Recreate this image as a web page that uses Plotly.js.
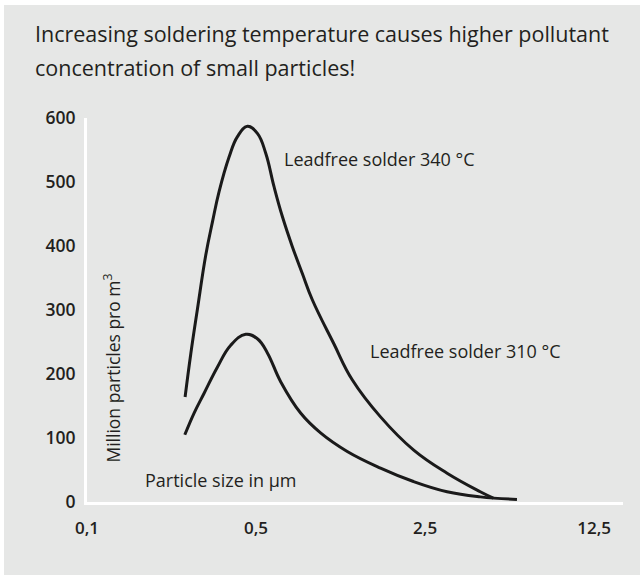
<!DOCTYPE html>
<html>
<head>
<meta charset="utf-8">
<script src="https://cdn.plot.ly/plotly-3.0.1.min.js"></script>
<style>
html,body{margin:0;padding:0;background:#ffffff;width:640px;height:579px;overflow:hidden;}
#chart{position:absolute;left:4px;top:5px;width:636px;height:570px;}
</style>
</head>
<body>
<div id="chart"></div>
<script>
// Particle size (µm) and concentration (million particles per m³)
const size340 = [0.2544, 0.2687, 0.2863, 0.3098, 0.3303, 0.3516, 0.3867, 0.4188, 0.4605, 0.5063, 0.5482, 0.5929, 0.6423, 0.7063, 0.7767, 0.854, 1.046, 1.249, 1.635, 2.243, 3.081, 4.227, 4.783];
const conc340 = [164, 232, 302, 386, 438, 485, 539, 571, 587, 576, 545, 493, 446, 399, 357, 316, 248, 191, 133, 81, 45, 16, 6];

const size310 = [0.2537, 0.2772, 0.3049, 0.3463, 0.3929, 0.4531, 0.5063, 0.5569, 0.632, 0.764, 0.924, 1.191, 1.635, 2.237, 3.081, 4.227, 5.993];
const conc310 = [105, 139, 170, 211, 245, 262, 255, 233, 188, 139, 108, 79, 53, 32, 16, 8, 4];

const xTickVals = [0.1, 0.5, 2.5, 12.5];
const xTickText = ['0,1', '0,5', '2,5', '12,5'];
const yTickVals = [0, 100, 200, 300, 400, 500, 600];

const titleLines = ['Increasing soldering temperature causes higher pollutant', 'concentration of small particles!'];
const label340 = 'Leadfree solder 340 °C';
const label310 = 'Leadfree solder 310 °C';
const xTitle = 'Particle size in µm';
const yTitle = 'Million particles pro m<sup>3</sup>';

const FONT = '"Open Sans", "Noto Sans", sans-serif';
const TXT = '#231f20';
const BG = '#e6e7e6';

const traces = [
  {x: size340, y: conc340, type: 'scatter', mode: 'lines', line: {color: '#1a1a1a', width: 3, shape: 'spline', smoothing: 1.2}, hoverinfo: 'skip'},
  {x: size310, y: conc310, type: 'scatter', mode: 'lines', line: {color: '#1a1a1a', width: 3, shape: 'spline', smoothing: 1.2}, hoverinfo: 'skip'}
];

const layout = {
  width: 636, height: 570,
  paper_bgcolor: BG, plot_bgcolor: BG,
  margin: {l: 83, r: 17, t: 113, b: 72.5, pad: 0},
  showlegend: false,
  font: {family: FONT, color: TXT},
  xaxis: {
    type: 'log', range: [-1, 1.216], showgrid: false, zeroline: false,
    showline: true, linecolor: '#ffffff', linewidth: 3,
    tickmode: 'array', tickvals: xTickVals, ticktext: xTickText,
    ticks: '', ticklabelstandoff: 9,
    tickfont: {family: FONT, size: 17, color: TXT, weight: 600}
  },
  yaxis: {
    range: [0, 600], showgrid: false, zeroline: false,
    showline: true, linecolor: '#ffffff', linewidth: 3,
    tickmode: 'array', tickvals: yTickVals,
    ticks: '', ticklabelstandoff: 5,
    tickfont: {family: FONT, size: 17.5, color: TXT, weight: 600}
  },
  annotations: [
    {text: titleLines[0], xref: 'paper', yref: 'paper', x: -0.1007, y: 1.221, xanchor: 'left', yanchor: 'middle', showarrow: false, font: {family: FONT, size: 21.5, color: TXT}},
    {text: titleLines[1], xref: 'paper', yref: 'paper', x: -0.1007, y: 1.1326, xanchor: 'left', yanchor: 'middle', showarrow: false, font: {family: FONT, size: 21.5, color: TXT}},
    {text: label340, xref: 'paper', yref: 'paper', x: 0.364, y: 0.893, xanchor: 'left', yanchor: 'middle', showarrow: false, font: {family: FONT, size: 18, color: TXT}},
    {text: label310, xref: 'paper', yref: 'paper', x: 0.524, y: 0.394, xanchor: 'left', yanchor: 'middle', showarrow: false, font: {family: FONT, size: 18, color: TXT}},
    {text: xTitle, xref: 'paper', yref: 'paper', x: 0.1045, y: 0.0585, xanchor: 'left', yanchor: 'middle', showarrow: false, font: {family: FONT, size: 18, color: TXT}},
    {text: yTitle, xref: 'paper', yref: 'paper', x: 0.0466, y: 0.35, xanchor: 'center', yanchor: 'middle', textangle: -90, showarrow: false, font: {family: FONT, size: 17.5, color: TXT}}
  ]
};

Plotly.newPlot('chart', traces, layout, {staticPlot: true, displayModeBar: false});
</script>
</body>
</html>
